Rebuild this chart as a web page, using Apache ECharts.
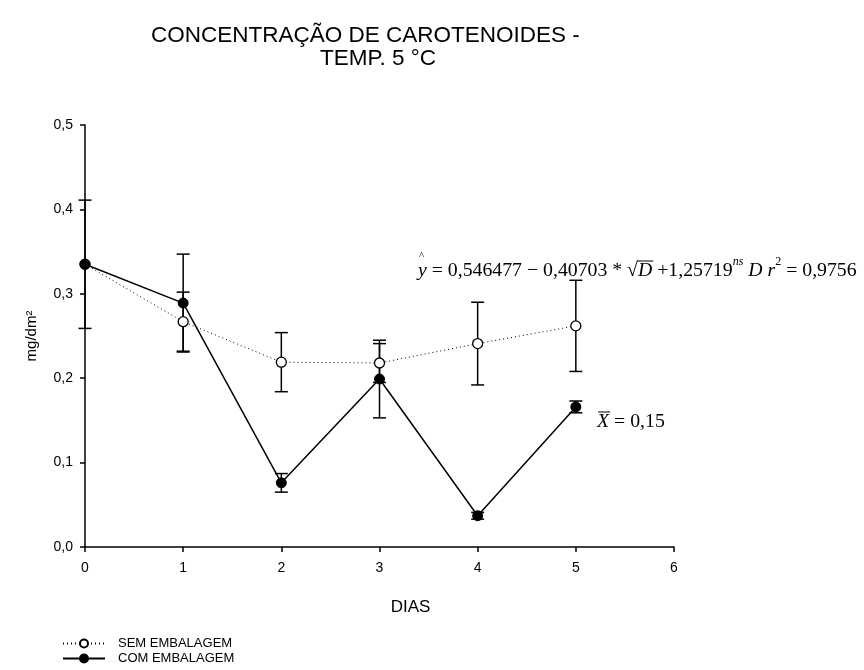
<!DOCTYPE html>
<html>
<head>
<meta charset="utf-8">
<script src="https://cdn.jsdelivr.net/npm/echarts@6/dist/echarts.min.js"></script>
<style>
  html, body { margin: 0; padding: 0; background: #fff; }
  #chart { width: 864px; height: 670px; }
</style>
</head>
<body>
<div id="chart"></div>
<script>
// Carotenoid concentration (mg/dm²) over storage days at 5 °C
const dias = [0, 1, 2, 3, 4, 5];
const semEmbalagem = [0.335, 0.267, 0.219, 0.218, 0.241, 0.262];
const semErro      = [0.076, 0.035, 0.035, 0.023, 0.049, 0.054];
const comEmbalagem = [0.335, 0.289, 0.076, 0.199, 0.037, 0.166];
const comErro      = [0.000, 0.058, 0.011, 0.046, 0.004, 0.007];
const xTicks = [0, 1, 2, 3, 4, 5, 6];
const yTicks = [0.0, 0.1, 0.2, 0.3, 0.4, 0.5];

const titulo1 = 'CONCENTRAÇÃO DE CAROTENOIDES -';
const titulo2 = 'TEMP. 5 °C';
const mediaTexto = '= 0,15';

const SANS = '"Liberation Sans", Arial, sans-serif';
const SERIF = '"Liberation Serif", "Times New Roman", serif';

const chart = echarts.init(document.getElementById('chart'), null, { renderer: 'canvas' });

function pares(valores) {
  return dias.map((d, i) => [d, valores[i]]);
}
function barras(valores, erros) {
  const out = [];
  dias.forEach((d, i) => {
    if (erros[i] > 0) out.push([d, valores[i] - erros[i], valores[i] + erros[i]]);
  });
  return out;
}

function renderErro(params, api) {
  const x = api.value(0);
  const lo = api.coord([x, api.value(1)]);
  const hi = api.coord([x, api.value(2)]);
  const w = 6.5;
  const st = { stroke: '#000', lineWidth: 1.5 };
  return {
    type: 'group',
    children: [
      { type: 'line', shape: { x1: hi[0], y1: hi[1], x2: lo[0], y2: lo[1] }, style: st },
      { type: 'line', shape: { x1: hi[0] - w, y1: hi[1], x2: hi[0] + w, y2: hi[1] }, style: st },
      { type: 'line', shape: { x1: lo[0] - w, y1: lo[1], x2: lo[0] + w, y2: lo[1] }, style: st }
    ]
  };
}

// Regression equation laid out piece by piece (italic variables, superscripts)
const eqFont = 19.8, supFont = 12;
const eqPieces = [
  { t: 'y', it: true },
  { t: ' = 0,546477 − 0,40703 * √' },
  { t: 'D', it: true, bar: true },
  { t: ' +1,25719' },
  { t: 'ns', it: true, sup: true },
  { t: ' D ', it: true },
  { t: 'r', it: true },
  { t: '2', sup: true },
  { t: ' = 0,9756' }
];
const ctx = document.createElement('canvas').getContext('2d');
function fontOf(p) {
  return (p.it ? 'italic ' : '') + (p.sup ? supFont : eqFont) + 'px ' + SERIF;
}
function eqGraphics(x0, yMid) {
  const els = [];
  let x = x0;
  eqPieces.forEach((p, i) => {
    ctx.font = fontOf(p);
    const w = ctx.measureText(p.t).width;
    els.push({
      type: 'text', x: x, y: p.sup ? yMid - 9 : yMid, silent: true,
      style: { text: p.t, font: fontOf(p), fill: '#000', align: 'left', verticalAlign: 'middle' }
    });
    if (i === 0) {
      els.push({
        type: 'text', x: x + 1, y: yMid - 15, silent: true,
        style: { text: '^', font: '11px ' + SERIF, fill: '#000', align: 'left', verticalAlign: 'middle' }
      });
    }
    if (p.bar) {
      els.push({
        type: 'line', silent: true,
        shape: { x1: x - 1, y1: yMid - 10, x2: x + w + 1, y2: yMid - 10 },
        style: { stroke: '#000', lineWidth: 1 }
      });
    }
    x += w;
  });
  return els;
}

function mediaGraphics(x0, yMid) {
  ctx.font = 'italic ' + eqFont + 'px ' + SERIF;
  const wx = ctx.measureText('X').width;
  return [
    { type: 'text', x: x0, y: yMid, silent: true,
      style: { text: 'X', font: 'italic ' + eqFont + 'px ' + SERIF, fill: '#000', align: 'left', verticalAlign: 'middle' } },
    { type: 'line', silent: true,
      shape: { x1: x0 + 1, y1: yMid - 10, x2: x0 + wx + 1, y2: yMid - 10 },
      style: { stroke: '#000', lineWidth: 1 } },
    { type: 'text', x: x0 + wx + 5, y: yMid, silent: true,
      style: { text: mediaTexto, font: eqFont + 'px ' + SERIF, fill: '#000', align: 'left', verticalAlign: 'middle' } }
  ];
}

const option = {
  backgroundColor: '#fff',
  animation: false,
  title: [
    { text: titulo1, left: 151, top: 24, padding: 0, textStyle: { fontFamily: SANS, fontSize: 22.5, fontWeight: 'normal', color: '#000' } },
    { text: titulo2, left: 320, top: 47, padding: 0, textStyle: { fontFamily: SANS, fontSize: 22.5, fontWeight: 'normal', color: '#000' } }
  ],
  grid: { left: 85, right: 190, top: 125, bottom: 123, containLabel: false },
  legend: {
    orient: 'vertical', left: 62, top: 637, padding: 0, height: 40,
    itemWidth: 42, itemHeight: 10, itemGap: 2,
    data: ['SEM EMBALAGEM', 'COM EMBALAGEM'],
    textStyle: { fontFamily: SANS, fontSize: 13, color: '#000', padding: [0, 0, 0, 8] }
  },
  xAxis: {
    type: 'value', min: xTicks[0], max: xTicks[xTicks.length - 1], interval: 1,
    name: 'DIAS', nameLocation: 'middle', nameGap: 52,
    nameTextStyle: { fontFamily: SANS, fontSize: 17, color: '#000', padding: [0, 0, 0, 62] },
    axisLine: { lineStyle: { color: '#000', width: 1.5 } },
    axisTick: { length: 5, lineStyle: { color: '#000', width: 1.5 } },
    axisLabel: { fontFamily: SANS, fontSize: 14, color: '#000', margin: 14 },
    splitLine: { show: false }
  },
  yAxis: {
    type: 'value', min: yTicks[0], max: yTicks[yTicks.length - 1], interval: 0.1,
    name: 'mg/dm²', nameLocation: 'middle', nameGap: 46,
    nameTextStyle: { fontFamily: SANS, fontSize: 15, color: '#000' },
    axisLine: { show: true, lineStyle: { color: '#000', width: 1.5 } },
    axisTick: { show: true, length: 5, lineStyle: { color: '#000', width: 1.5 } },
    axisLabel: { fontFamily: SANS, fontSize: 14, color: '#000', margin: 12,
      formatter: v => v.toFixed(1).replace('.', ',') },
    splitLine: { show: false }
  },
  series: [
    {
      name: 'erro-sem', type: 'custom', renderItem: renderErro, clip: false, z: 1,
      data: barras(semEmbalagem, semErro), encode: { x: 0, y: [1, 2] }, silent: true
    },
    {
      name: 'erro-com', type: 'custom', renderItem: renderErro, clip: false, z: 1,
      data: barras(comEmbalagem, comErro), encode: { x: 0, y: [1, 2] }, silent: true
    },
    {
      name: 'SEM EMBALAGEM', type: 'line', data: pares(semEmbalagem), z: 3,
      symbol: 'circle', symbolSize: 10,
      lineStyle: { color: '#000', width: 1, type: [1, 3] },
      itemStyle: { color: '#fff', borderColor: '#000', borderWidth: 1.3 }
    },
    {
      name: 'COM EMBALAGEM', type: 'line', data: pares(comEmbalagem), z: 4,
      symbol: 'circle', symbolSize: 10,
      lineStyle: { color: '#000', width: 1.5 },
      itemStyle: { color: '#000', borderColor: '#000', borderWidth: 1 }
    }
  ],
  graphic: eqGraphics(418, 271).concat(mediaGraphics(597, 422))
};

chart.setOption(option);
</script>
</body>
</html>
